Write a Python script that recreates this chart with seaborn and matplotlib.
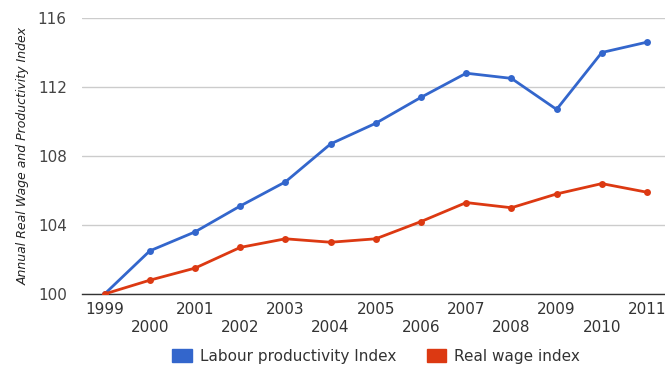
import matplotlib
matplotlib.use("Agg")
import matplotlib.pyplot as plt
import seaborn as sns
import pandas as pd
from matplotlib.patches import Patch

years = list(range(1999, 2012))
productivity = [100.0, 102.5, 103.6, 105.1, 106.5, 108.7, 109.9, 111.4, 112.8, 112.5, 110.7, 114.0, 114.6]
real_wage = [100.0, 100.8, 101.5, 102.7, 103.2, 103.0, 103.2, 104.2, 105.3, 105.0, 105.8, 106.4, 105.9]
series_names = ["Labour productivity Index", "Real wage index"]
colors = ["#3366cc", "#dc3912"]
y_ticks = [100, 104, 108, 112, 116]

df = pd.concat([
    pd.DataFrame({"year": years, "value": productivity, "series": series_names[0]}),
    pd.DataFrame({"year": years, "value": real_wage, "series": series_names[1]}),
])

sns.set_style("white")
plt.rcParams["font.family"] = ["DejaVu Sans"]

fig = plt.figure(figsize=(6.65, 3.65), dpi=100)
ax = fig.add_axes([82/665, 1 - 294/365, (669.6 - 82)/665, (294 - 18)/365])

sns.lineplot(data=df, x="year", y="value", hue="series", palette=colors,
             marker="o", markersize=5, markeredgewidth=0, linewidth=2,
             legend=False, ax=ax, zorder=3)

ax.set_xlim(1998.5, 2011.5)
ax.set_ylim(100, 116)
ax.set_yticks(y_ticks)
ax.set_yticklabels([str(v) for v in y_ticks])
ax.set_xticks(years)
ax.set_xticklabels([str(y) if (y - 1999) % 2 == 0 else "\n" + str(y) for y in years],
                   linespacing=1.2)
ax.tick_params(axis="x", length=0, pad=6, labelsize=11, labelcolor="#333333")
ax.tick_params(axis="y", length=0, pad=11, labelsize=11, labelcolor="#444444")
for lab in ax.get_xticklabels():
    lab.set_verticalalignment("top")

ax.grid(axis="y", color="#cccccc", linewidth=1)
ax.set_axisbelow(True)
for s in ["top", "right", "left"]:
    ax.spines[s].set_visible(False)
ax.spines["bottom"].set_color("#333333")
ax.spines["bottom"].set_linewidth(1)
ax.spines["bottom"].set_zorder(2)

ax.set_xlabel("")
ax.set_ylabel("Annual Real Wage and Productivity Index", fontstyle="italic",
              fontsize=9, color="#222222", labelpad=6)

handles = [Patch(facecolor=c, edgecolor=c) for c in colors]
fig.legend(handles, series_names, loc="center", bbox_to_anchor=(376/665, 1 - 356/365),
           ncol=2, frameon=False, fontsize=11, handlelength=1.3, handleheight=0.9,
           handletextpad=0.5, columnspacing=2.0, labelcolor="#333333")

fig.savefig("out.png", dpi=100)
